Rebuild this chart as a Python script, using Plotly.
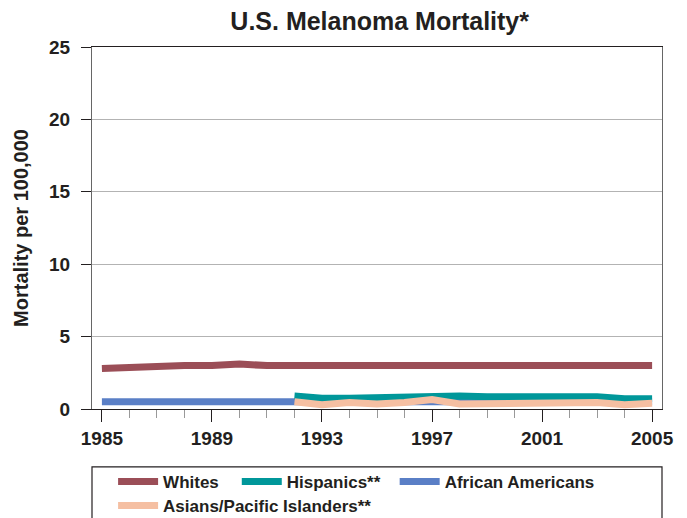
import plotly.graph_objects as go

years = list(range(1985, 2006))
years_late = list(range(1992, 2006))

whites = [2.8, 2.9, 2.9, 3.0, 3.0, 3.1, 3.0, 3.0, 3.0, 3.0, 3.0, 3.1, 3.1, 3.1, 3.0, 3.0, 3.0, 3.0, 3.0, 3.0, 3.0]
african_americans = [0.5, 0.5, 0.6, 0.5, 0.6, 0.5, 0.6, 0.5, 0.5, 0.5, 0.5, 0.5, 0.6, 0.5, 0.5, 0.5, 0.5, 0.5, 0.5, 0.5, 0.5]
hispanics = [0.9, 0.75, 0.75, 0.8, 0.9, 0.9, 0.9, 0.85, 0.85, 0.85, 0.85, 0.85, 0.7, 0.7]
asians = [0.5, 0.3, 0.45, 0.35, 0.45, 0.65, 0.35, 0.35, 0.35, 0.35, 0.45, 0.45, 0.3, 0.4]

x_ticks = [1985, 1989, 1993, 1997, 2001, 2005]
y_ticks = [0, 5, 10, 15, 20, 25]

FONT = "Liberation Sans, Arial, sans-serif"
TXT = "#231f20"

fig = go.Figure()
fig.add_trace(go.Scatter(x=years, y=whites, name="<b>Whites</b>", mode="lines",
                         line=dict(color="#9b4e57", width=7), legend="legend"))
fig.add_trace(go.Scatter(x=years, y=african_americans, name="<b>African Americans</b>", mode="lines",
                         line=dict(color="#5a7fc6", width=7), legend="legend3"))
fig.add_trace(go.Scatter(x=years_late, y=hispanics, name="<b>Hispanics**</b>", mode="lines",
                         line=dict(color="#00979a", width=7), legend="legend2"))
fig.add_trace(go.Scatter(x=years_late, y=asians, name="<b>Asians/Pacific Islanders**</b>", mode="lines",
                         line=dict(color="#f5bfa2", width=7), legend="legend4"))

leg_common = dict(orientation="h", xanchor="left", yanchor="middle",
                  font=dict(size=17, family=FONT, color=TXT), bgcolor="rgba(0,0,0,0)",
                  itemwidth=40)

fig.update_layout(
    width=687, height=518,
    margin=dict(l=84, r=33, t=39, b=117, autoexpand=False),
    paper_bgcolor="white", plot_bgcolor="white",
    font=dict(family=FONT, color=TXT),
    title=dict(text="<b>U.S. Melanoma Mortality*</b>", x=0.541, xanchor="center",
               y=0.975, yanchor="middle", font=dict(size=25, color=TXT)),
    showlegend=True,
    legend=dict(x=0.037, y=-0.2017, **leg_common),
    legend2=dict(x=0.254, y=-0.2017, **leg_common),
    legend3=dict(x=0.531, y=-0.2017, **leg_common),
    legend4=dict(x=0.037, y=-0.268, **leg_common),
    shapes=[dict(type="rect", xref="paper", yref="paper", x0=0, x1=1, y0=-0.16, y1=-0.40,
                 line=dict(color=TXT, width=1.2), fillcolor="rgba(0,0,0,0)")],
)

fig.update_xaxes(range=[1984.64, 2005.36], tickvals=x_ticks, ticktext=[f"<b>{v}</b>" for v in x_ticks],
                 ticks="outside", ticklen=12, tickcolor=TXT, tickwidth=1,
                 tickfont=dict(size=19, family=FONT, color=TXT),
                 minor=dict(dtick=1, tick0=1985, ticks="outside", ticklen=8, tickcolor="#999999"),
                 showgrid=False, showline=True, linecolor=TXT, linewidth=1.2, mirror=True,
                 zeroline=False, automargin=False)
fig.update_yaxes(range=[0, 25], tickvals=y_ticks, ticktext=[f"<b>{v}</b>" for v in y_ticks],
                 ticks="outside", ticklen=10, tickcolor=TXT, ticklabelstandoff=7,
                 tickfont=dict(size=19, family=FONT, color=TXT),
                 title=dict(text="<b>Mortality per 100,000</b>", font=dict(size=20, color=TXT), standoff=14),
                 showgrid=True, gridcolor="#b3b3b3", gridwidth=1,
                 showline=True, linecolor="#666666", linewidth=1.2, mirror=True, zeroline=False,
                 automargin=False)

fig.write_html("out.html")
